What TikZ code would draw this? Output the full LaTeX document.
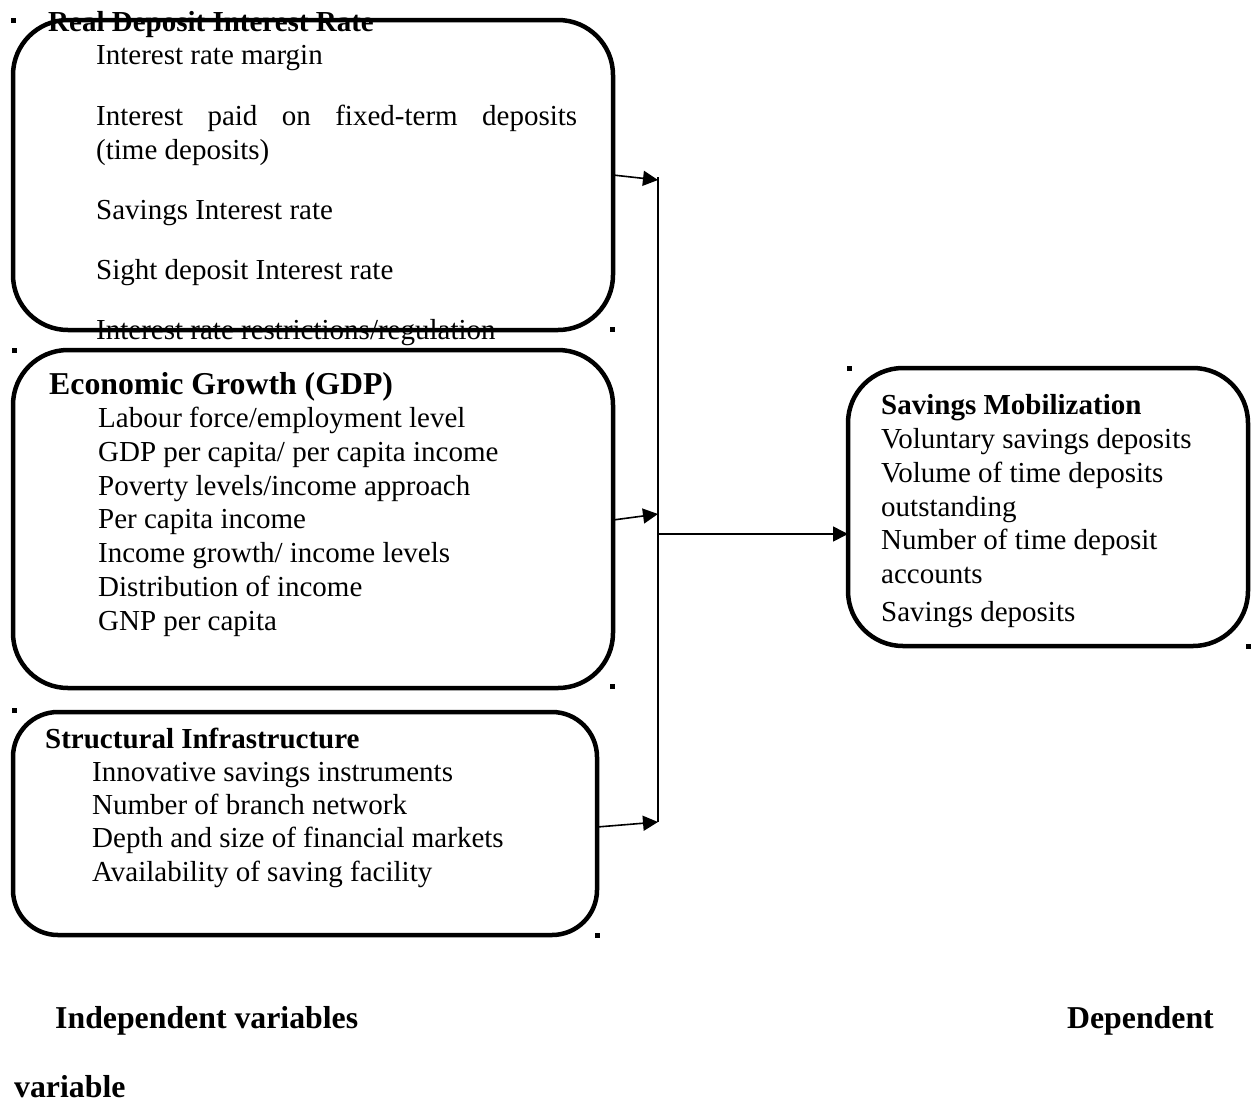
\documentclass[tikz,border=0pt]{standalone}
\usepackage{fontspec}
\setmainfont{Liberation Serif}
\usetikzlibrary{arrows.meta}
\begin{document}
\begin{tikzpicture}[x=1pt,y=-1pt,
  box/.style={draw,line width=4.5pt,rounded corners=55pt,outer sep=0pt,inner sep=0pt},
  txt/.style={anchor=base west,inner sep=0pt,font=\fontsize{29}{34}\selectfont},
  ttl/.style={txt,font=\fontsize{29}{34}\selectfont\bfseries},
  bigttl/.style={txt,font=\fontsize{31.8}{36}\selectfont\bfseries},
  conn/.style={line width=1.6pt,-{Triangle[length=15pt,width=15pt]}},
  anchmark/.style={fill=black,minimum size=5pt,inner sep=0pt,outer sep=0pt}]
\useasboundingbox (0,0) rectangle (1251,1104);
% boxes
\node[box,minimum width=600pt,minimum height=310pt] (b1) at (313,175) {};
\node[box,minimum width=600pt,minimum height=338pt] (b2) at (313,519) {};
\node[box,rounded corners=45pt,minimum width=584pt,minimum height=223pt] (b3) at (305,823.5) {};
\node[box,minimum width=400pt,minimum height=278pt] (b4) at (1048,507) {};
% anchor marks
\node[anchmark] (d1) at (13,20) {};
\node[anchmark] (d2) at (612,329) {};
\node[anchmark] (d3) at (14,350) {};
\node[anchmark] (d4) at (612,686) {};
\node[anchmark] (d5) at (14,710) {};
\node[anchmark] (d6) at (597,935) {};
\node[anchmark] (d7) at (849,368) {};
\node[anchmark] (d8) at (1248,646) {};
% box 1 text
\node[ttl] (t1) at (48,31) {Real Deposit Interest Rate};
\node[txt] (t1a) at (96,64) {Interest rate margin};
\node[txt] (t1b) at (96,125) {\makebox[481pt][s]{Interest paid on fixed-term deposits}};
\node[txt] (t1c) at (96,159) {(time deposits)};
\node[txt] (t1d) at (96,219) {Savings Interest rate};
\node[txt] (t1e) at (96,279) {Sight deposit Interest rate};
\node[txt] (t1f) at (96,339) {Interest rate restrictions/regulation};
% box 2 text
\node[bigttl] (t2) at (49,394) {Economic Growth (GDP)};
\node[txt] (t2a) at (98,427) {Labour force/employment level};
\node[txt] (t2b) at (98,461) {GDP per capita/ per capita income};
\node[txt] (t2c) at (98,495) {Poverty levels/income approach};
\node[txt] (t2d) at (98,528) {Per capita income};
\node[txt] (t2e) at (98,562) {Income growth/ income levels};
\node[txt] (t2f) at (98,596) {Distribution of income};
\node[txt] (t2g) at (98,630) {GNP per capita};
% box 3 text
\node[ttl] (t3) at (45,748) {Structural Infrastructure};
\node[txt] (t3a) at (92,781) {Innovative savings instruments};
\node[txt] (t3b) at (92,814) {Number of branch network};
\node[txt] (t3c) at (92,847) {Depth and size of financial markets};
\node[txt] (t3d) at (92,881) {Availability of saving facility};
% box 4 text
\node[ttl] (t4) at (881,414) {Savings Mobilization};
\node[txt] (t4a) at (881,448) {Voluntary savings deposits};
\node[txt] (t4b) at (881,482) {Volume of time deposits};
\node[txt] (t4c) at (881,516) {outstanding};
\node[txt] (t4d) at (881,549) {Number of time deposit};
\node[txt] (t4e) at (881,583) {accounts};
\node[txt] (t4f) at (881,621) {Savings deposits};
% bottom labels
\node[bigttl] (l1) at (55,1028) {Independent variables};
\node[bigttl,anchor=base east] (l2) at (1214,1028) {Dependent};
\node[bigttl] (l3) at (14,1097) {variable};
% connectors
\coordinate (j1) at (658,180);
\coordinate (j2) at (658,514);
\coordinate (j3) at (658,822);
\coordinate (jm) at (658,534);
\draw[line width=1.6pt] (658,177) -- (j3);
\draw[conn] (b1.east) -- (j1);
\draw[conn] ([yshift=-1pt]b2.east) -- (j2);
\draw[conn] ([yshift=-3.5pt]b3.east) -- (j3);
\draw[conn] (jm) -- (b4.west |- jm);
\end{tikzpicture}
\end{document}
